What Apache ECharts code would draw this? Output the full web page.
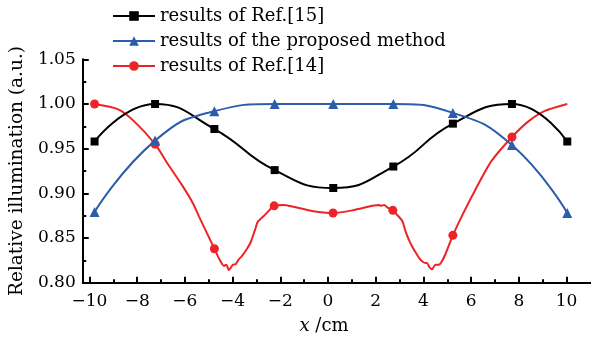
<!DOCTYPE html>
<html>
<head>
<meta charset="utf-8">
<script src="https://cdn.jsdelivr.net/npm/echarts@6/dist/echarts.min.js"></script>
<style>
html,body{margin:0;padding:0;background:#fff;}
#c{width:591px;height:342px;}
</style>
</head>
<body>
<div id="c"></div>
<script>
// Data
var names = ['results of Ref.[15]', 'results of the proposed method', 'results of Ref.[14]'];
var xTicks = [-10, -8, -6, -4, -2, 0, 2, 4, 6, 8, 10];
var yTicks = [0.80, 0.85, 0.90, 0.95, 1.00, 1.05];

var ref15 = [[-10,0.958],[-7.44,1.000],[-4.93,0.972],[-2.38,0.926],[0.1,0.906],[2.64,0.930],[5.16,0.978],[7.66,1.000],[10,0.958]];
var proposed = [[-10,0.879],[-7.44,0.959],[-4.93,0.992],[-2.38,1.000],[0.1,1.000],[2.64,1.000],[5.16,0.990],[7.66,0.954],[10,0.878]];
// dense red curve; markerX14 lists the points that carry a circle
var ref14 = [[-10,1.000],[-9.0,0.994],[-8.3,0.980],[-7.44,0.955],[-6.88,0.932],[-6.32,0.910],[-5.84,0.889],[-5.58,0.874],
  [-4.93,0.838],[-4.79,0.830],[-4.65,0.823],[-4.53,0.819],[-4.42,0.820],[-4.32,0.814],[-4.15,0.820],[-4.02,0.821],
  [-3.90,0.826],[-3.76,0.830],[-3.55,0.838],[-3.40,0.845],[-3.20,0.860],[-3.10,0.868],[-2.95,0.872],[-2.75,0.877],
  [-2.40,0.886],[-2.0,0.887],[-1.6,0.885],[-0.75,0.880],[0.09,0.878],[0.92,0.881],[1.76,0.886],[2.05,0.887],
  [2.12,0.886],[2.25,0.887],[2.40,0.884],[2.62,0.881],[2.80,0.876],[3.02,0.869],[3.15,0.858],[3.30,0.848],
  [3.45,0.840],[3.58,0.834],[3.75,0.827],[3.86,0.824],[4.0,0.822],[4.07,0.822],[4.15,0.818],[4.28,0.815],
  [4.42,0.820],[4.55,0.820],[4.65,0.822],[4.83,0.831],[5.16,0.853],[5.53,0.874],[6.09,0.903],[6.79,0.936],
  [7.66,0.963],[8.33,0.980],[9.03,0.992],[10.0,1.000]];
var markerX14 = [-10, -7.44, -4.93, -2.40, 0.09, 2.62, 5.16, 7.66];

var FONT = 'DejaVu Serif';
var BLACK = '#000000', BLUE = '#2c5daa', RED = '#ec2427';

function minus(v){ return v < 0 ? '\u2212' + (-v) : String(v); }

var redData = ref14.map(function(p){
  var has = markerX14.indexOf(p[0]) >= 0;
  return has ? {value: p} : {value: p, symbol: 'none'};
});

var chart = echarts.init(document.getElementById('c'), null, {renderer: 'canvas'});
chart.setOption({
  animation: false,
  backgroundColor: '#fff',
  grid: [
    {left: 77.6, right: 0.1, top: 59.3, bottom: 59.3},
    {left: 89.5, right: 24.5, top: 59.3, bottom: 59.3}
  ],
  legend: {
    orient: 'vertical', left: 107, top: 2,
    itemWidth: 42, itemHeight: 12, itemGap: 7,
    data: names,
    textStyle: {fontFamily: FONT, fontSize: 18, color: '#000', lineHeight: 18}
  },
  xAxis: [
    {gridIndex: 0, type: 'value', min: -10.5, max: 11,
     axisLine: {show: true, onZero: false, lineStyle: {color: '#000', width: 2}},
     axisTick: {show: false}, axisLabel: {show: false}, splitLine: {show: false}},
    {gridIndex: 1, type: 'value', min: xTicks[0], max: xTicks[xTicks.length-1], interval: 2,
     axisLine: {show: false, onZero: false},
     axisTick: {show: true, inside: true, length: 6, lineStyle: {color: '#000', width: 2}},
     minorTick: {show: true, splitNumber: 2, length: 3.5, lineStyle: {color: '#000', width: 2}},
     axisLabel: {show: true, margin: 10, fontFamily: FONT, fontSize: 17, color: '#000', formatter: minus},
     splitLine: {show: false},
     name: '{i|x} /cm', nameLocation: 'middle', nameGap: 35,
     nameTextStyle: {fontFamily: FONT, fontSize: 18, color: '#000', padding: [0, 8, 0, 0],
       rich: {i: {fontFamily: FONT, fontStyle: 'italic', fontSize: 18, color: '#000'}}}}
  ],
  yAxis: [
    {gridIndex: 0, type: 'value', min: yTicks[0], max: yTicks[yTicks.length-1], interval: 0.05,
     axisLine: {show: true, onZero: false, lineStyle: {color: '#000', width: 2}},
     axisTick: {show: true, inside: true, length: 6, lineStyle: {color: '#000', width: 2}},
     minorTick: {show: true, splitNumber: 2, length: 3.5, lineStyle: {color: '#000', width: 2}},
     axisLabel: {margin: 7, fontFamily: FONT, fontSize: 17, color: '#000',
       formatter: function(v){ return v.toFixed(2); }},
     splitLine: {show: false},
     name: 'Relative illumination (a.u.)', nameLocation: 'middle', nameGap: 50,
     nameTextStyle: {fontFamily: FONT, fontSize: 18.5, color: '#000'}},
    {gridIndex: 1, type: 'value', min: 0.8, max: 1.05, show: false,
     axisLine: {show: false, onZero: false}, axisTick: {show: false},
     axisLabel: {show: false}, splitLine: {show: false}}
  ],
  series: [
    {name: names[2], type: 'line', xAxisIndex: 0, yAxisIndex: 0, data: redData, smooth: 0.25,
     symbol: 'circle', symbolSize: 9, showAllSymbol: true,
     lineStyle: {color: RED, width: 2}, itemStyle: {color: RED}},
    {name: names[0], type: 'line', xAxisIndex: 0, yAxisIndex: 0, data: ref15, smooth: 0.5,
     symbol: 'rect', symbolSize: 8,
     lineStyle: {color: BLACK, width: 2}, itemStyle: {color: BLACK}},
    {name: names[1], type: 'line', xAxisIndex: 0, yAxisIndex: 0, data: proposed, smooth: 0.5,
     symbol: 'triangle', symbolSize: 10,
     lineStyle: {color: BLUE, width: 2}, itemStyle: {color: BLUE}}
  ]
});
</script>
</body>
</html>
